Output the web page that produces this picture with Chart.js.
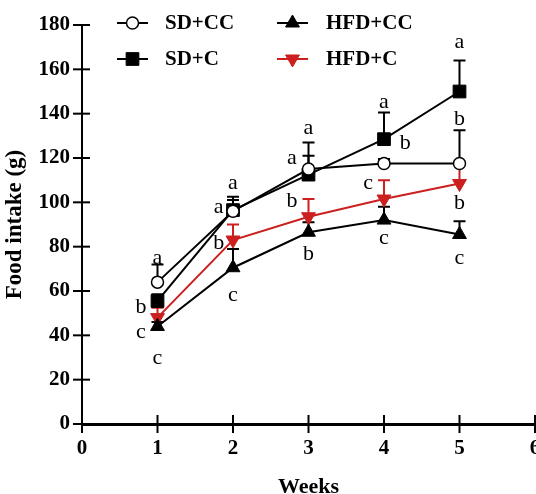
<!DOCTYPE html>
<html>
<head>
<meta charset="utf-8">
<script src="https://cdn.jsdelivr.net/npm/chart.js@4/dist/chart.umd.min.js"></script>
<style>
  html, body { margin: 0; padding: 0; background: #fff; overflow: hidden; }
  #wrap { width: 536px; height: 494px; }
</style>
</head>
<body>
<div id="wrap"><canvas id="foodChart" width="536" height="494"></canvas></div>
<script>
// ---- data ----
const weeks = [1, 2, 3, 4, 5];
const xTicks = [0, 1, 2, 3, 4, 5, 6];
const yTicks = [0, 20, 40, 60, 80, 100, 120, 140, 160, 180];

const sdCC    = [64, 96, 115, 117.5, 117.5];
const sdCCErr = [8, 5, 12, 2, 15];
const sdC     = [55.5, 96.5, 112.5, 128.5, 150];
const sdCErr  = [3, 6, 8.5, 12, 14];
const hfdCC    = [44, 70.5, 86.5, 92, 85.5];
const hfdCCErr = [2, 8.5, 4.5, 6, 6];
const hfdC    = [48, 83, 93.5, 101.5, 108.5];
const hfdCErr = [4.5, 7, 8, 8.5, 9.5];

// significance letters (week, value, letter)
const letterX = [1, 0.78, 0.78, 1,   2, 1.81, 1.81, 2,   3, 2.78, 2.78, 3,   4, 4.28, 3.79, 4,   5, 5, 5, 5];
const letterY = [75, 52.5, 41.5, 29.5,   108.7, 98, 81.5, 58,   133.5, 120, 100.3, 76.5,   145, 126.7, 108.7, 84,   172.4, 137.6, 99.7, 75];
const letterText = ['a','b','c','c',  'a','a','b','c',  'a','a','b','b',  'a','b','c','c',  'a','b','b','c'];

const RED = '#cc1f1f';
const SERIF = '"Liberation Serif", "Times New Roman", serif';

function pts(vals) {
  return weeks.map((w, i) => ({ x: w, y: vals[i] }));
}

const datasets = [
  { label: 'SD+CC', data: pts(sdCC), err: sdCCErr, borderColor: '#000', backgroundColor: '#fff',
    pointStyle: 'circle', pointRadius: 6, pointBorderWidth: 1.5, legendCol: 0, legendRow: 0 },
  { label: 'SD+C', data: pts(sdC), err: sdCErr, borderColor: '#000', backgroundColor: '#000',
    pointStyle: 'rect', pointRadius: 9, pointBorderWidth: 1, legendCol: 0, legendRow: 1 },
  { label: 'HFD+CC', data: pts(hfdCC), err: hfdCCErr, borderColor: '#000', backgroundColor: '#000',
    pointStyle: 'triangle', pointRadius: 8, pointBorderWidth: 1, legendCol: 1, legendRow: 0 },
  { label: 'HFD+C', data: pts(hfdC), err: hfdCErr, borderColor: RED, backgroundColor: RED,
    pointStyle: 'triangle', pointRotation: 180, pointRadius: 8, pointBorderWidth: 1, legendCol: 1, legendRow: 1 }
];
datasets.forEach(d => {
  d.borderWidth = 2;
  d.tension = 0;
  d.pointBackgroundColor = d.backgroundColor;
  d.pointBorderColor = d.borderColor;
});

// the x axis runs to the right edge of the picture (the "6" is cut off there)
const stretchX = {
  id: 'stretchX',
  afterLayout(chart) {
    const x = chart.scales.x;
    x.right = 535;
    x.width = x.right - x.left;
    x.configure();
    chart.chartArea.right = 535;
    chart.chartArea.width = chart.chartArea.right - chart.chartArea.left;
  }
};

// error bars (upper side only), drawn under the markers
const errorBars = {
  id: 'errorBars',
  beforeDatasetsDraw(chart) {
    const { ctx, scales: { x, y } } = chart;
    ctx.save();
    ctx.lineWidth = 2;
    chart.data.datasets.forEach(ds => {
      ctx.strokeStyle = ds.borderColor;
      ds.data.forEach((p, i) => {
        const px = x.getPixelForValue(p.x);
        const y0 = y.getPixelForValue(p.y);
        const y1 = y.getPixelForValue(p.y + ds.err[i]);
        ctx.beginPath();
        ctx.moveTo(px, y0);
        ctx.lineTo(px, y1);
        ctx.moveTo(px - 6, y1);
        ctx.lineTo(px + 6, y1);
        ctx.stroke();
      });
    });
    ctx.restore();
  }
};

// ticks that cross the axes, letters and the legend
const extras = {
  id: 'extras',
  afterDraw(chart) {
    const { ctx, scales: { x, y }, chartArea } = chart;
    ctx.save();
    ctx.strokeStyle = '#000';
    ctx.lineWidth = 2;
    yTicks.forEach(v => {
      const py = y.getPixelForValue(v);
      ctx.beginPath();
      ctx.moveTo(chartArea.left - 9, py);
      ctx.lineTo(chartArea.left + 8, py);
      ctx.stroke();
    });
    xTicks.forEach(v => {
      const px = x.getPixelForValue(v);
      ctx.beginPath();
      ctx.moveTo(px, chartArea.bottom - 9);
      ctx.lineTo(px, chartArea.bottom + 9);
      ctx.stroke();
    });

    ctx.fillStyle = '#000';
    ctx.font = '22px ' + SERIF;
    ctx.textAlign = 'center';
    ctx.textBaseline = 'middle';
    letterText.forEach((t, i) => {
      ctx.fillText(t, x.getPixelForValue(letterX[i]), y.getPixelForValue(letterY[i]));
    });

    // legend
    const colLine = [117, 277];
    const colText = [165, 326];
    const rowY = [23, 59];
    ctx.font = 'bold 21px ' + SERIF;
    ctx.textAlign = 'left';
    chart.data.datasets.forEach(ds => {
      const lx = colLine[ds.legendCol];
      const ly = rowY[ds.legendRow];
      ctx.strokeStyle = ds.borderColor;
      ctx.lineWidth = 2;
      ctx.beginPath();
      ctx.moveTo(lx, ly);
      ctx.lineTo(lx + 31, ly);
      ctx.stroke();
      ctx.fillStyle = ds.backgroundColor;
      ctx.strokeStyle = ds.borderColor;
      ctx.lineWidth = ds.pointBorderWidth;
      Chart.helpers.drawPoint(ctx, {
        pointStyle: ds.pointStyle,
        rotation: ds.pointRotation || 0,
        radius: ds.pointRadius,
        borderWidth: ds.pointBorderWidth
      }, lx + 15.5, ly);
      ctx.fillStyle = '#000';
      ctx.fillText(ds.label, colText[ds.legendCol], ly + 1);
    });
    ctx.restore();
  }
};

new Chart(document.getElementById('foodChart'), {
  type: 'line',
  data: { datasets },
  options: {
    responsive: false,
    animation: false,
    layout: { padding: { top: 25, right: 0, left: 0, bottom: 0 } },
    plugins: { legend: { display: false }, tooltip: { enabled: false } },
    scales: {
      x: {
        type: 'linear',
        min: 0,
        max: 6,
        afterBuildTicks: s => { s.ticks = xTicks.map(v => ({ value: v })); },
        afterFit: s => { s.height = 70; },
        grid: { display: false, drawTicks: false },
        border: { display: true, color: '#000', width: 3 },
        ticks: { color: '#000', padding: 12, font: { family: SERIF, size: 21, weight: 'bold' } },
        title: { display: true, text: 'Weeks', color: '#000', padding: { top: 0, bottom: -4 },
          font: { family: SERIF, size: 22, weight: 'bold', lineHeight: 1 } }
      },
      y: {
        min: 0,
        max: 180,
        afterBuildTicks: s => { s.ticks = yTicks.map(v => ({ value: v })); },
        afterFit: s => { s.width = 82; s.paddingTop = 0; s.paddingBottom = 0; },
        grid: { display: false, drawTicks: false },
        border: { display: true, color: '#000', width: 2 },
        ticks: { color: '#000', padding: 12, font: { family: SERIF, size: 21, weight: 'bold' } },
        title: { display: true, text: 'Food intake (g)', color: '#000', padding: { top: 4, bottom: 0 },
          font: { family: SERIF, size: 23, weight: 'bold', lineHeight: 1 } }
      }
    }
  },
  plugins: [stretchX, errorBars, extras]
});
</script>
</body>
</html>
